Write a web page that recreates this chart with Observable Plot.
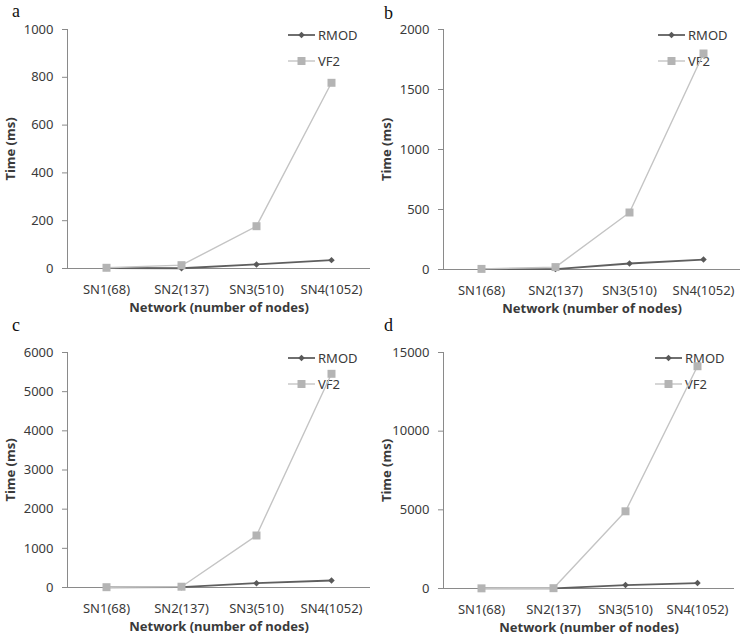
<!DOCTYPE html>
<html>
<head>
<meta charset="utf-8">
<script src="https://cdn.jsdelivr.net/npm/d3@7"></script>
<script src="https://cdn.jsdelivr.net/npm/@observablehq/plot@0.6"></script>
<style>
  body { margin: 0; background: #fff; font-family: "Noto Sans", sans-serif; }
  #fig { position: relative; width: 740px; height: 642px; overflow: hidden; background: #fff; }
  .panel { position: absolute; }
  .panel svg { position: absolute; left: 0; top: 0; z-index: 1; }
  .letter { position: absolute; font-family: "Liberation Serif", serif; font-size: 18px; color: #111; line-height: 1; }
  .legend { position: absolute; font-size: 13px; color: #3a3a3a; z-index: 0; }
  .legend .row { position: absolute; left: 0; height: 16px; display: flex; align-items: center; white-space: nowrap; }
  .legend .row svg { position: static; margin-right: 2px; }
</style>
</head>
<body>
<div id="fig"></div>
<script>
// Networks on the x axis
const networks = ["SN1(68)", "SN2(137)", "SN3(510)", "SN4(1052)"];
const seriesNames = ["RMOD", "VF2"];

// Run time (ms) per network, one pair of series per experiment
const rmodA = [2, 1, 17, 35];
const vf2A  = [3, 14, 177, 777];
const rmodB = [3, 3, 50, 83];
const vf2B  = [5, 20, 475, 1800];
const rmodC = [3, 8, 110, 179];
const vf2C  = [8, 20, 1328, 5456];
const rmodD = [5, 10, 217, 344];
const vf2D  = [10, 20, 4907, 14127];

// Y-axis ticks per panel
const ticksA = [0, 200, 400, 600, 800, 1000];
const ticksB = [0, 500, 1000, 1500, 2000];
const ticksC = [0, 1000, 2000, 3000, 4000, 5000, 6000];
const ticksD = [0, 5000, 10000, 15000];

const panelLetters = ["a", "b", "c", "d"];
const xTitle = "Network (number of nodes)";
const yTitle = "Time (ms)";

const colors = { RMOD: "#595959", VF2: "#b4b4b4" };
const lineColors = { RMOD: "#5f5f5f", VF2: "#c4c4c4" };
const symbols = { RMOD: "diamond2", VF2: "square" };
const axisGray = "#8a8a8a";
const textGray = "#3a3a3a";

const panels = [
  { letter: panelLetters[0], rmod: rmodA, vf2: vf2A, ticks: ticksA,
    left: 0, top: 0, width: 370, height: 320,
    margin: { l: 67, r: 0, t: 29, b: 52 },
    letterPos: [12, 2], legendPos: [288, 27] },
  { letter: panelLetters[1], rmod: rmodB, vf2: vf2B, ticks: ticksB,
    left: 370, top: 0, width: 370, height: 320,
    margin: { l: 73, r: 0, t: 29, b: 51 },
    letterPos: [14, 4], legendPos: [288, 27] },
  { letter: panelLetters[2], rmod: rmodC, vf2: vf2C, ticks: ticksC,
    left: 0, top: 320, width: 370, height: 322,
    margin: { l: 67, r: 0, t: 32, b: 55 },
    letterPos: [12, -4], legendPos: [288, 30] },
  { letter: panelLetters[3], rmod: rmodD, vf2: vf2D, ticks: ticksD,
    left: 370, top: 320, width: 370, height: 322,
    margin: { l: 73, r: 6, t: 32, b: 54 },
    letterPos: [14, -4], legendPos: [285, 30] }
];

const fig = document.getElementById("fig");

function symbolPath(name, size) {
  const sym = name === "diamond2" ? d3.symbolDiamond2 : d3.symbolSquare;
  return d3.symbol(sym, size)();
}

for (const p of panels) {
  const rows = [];
  networks.forEach((n, i) => {
    rows.push({ network: n, series: "RMOD", time: p.rmod[i] });
    rows.push({ network: n, series: "VF2", time: p.vf2[i] });
  });
  const ymax = p.ticks[p.ticks.length - 1];

  const div = document.createElement("div");
  div.className = "panel";
  div.style.left = p.left + "px";
  div.style.top = p.top + "px";
  div.style.width = p.width + "px";
  div.style.height = p.height + "px";

  const chart = Plot.plot({
    width: p.width,
    height: p.height,
    marginLeft: p.margin.l,
    marginRight: p.margin.r,
    marginTop: p.margin.t,
    marginBottom: p.margin.b,
    style: { background: "transparent", fontFamily: "Noto Sans", fontSize: "13px", color: textGray, overflow: "visible" },
    x: { type: "point", domain: networks, padding: 0.5, label: null },
    y: { domain: [0, ymax], label: null },
    marks: [
      Plot.frame({ anchor: "left", stroke: axisGray }),
      Plot.ruleY([0], { stroke: axisGray }),
      Plot.axisY({ ticks: p.ticks, tickSize: 5, tickPadding: 9, stroke: axisGray, fill: textGray, label: null, tickFormat: d => String(d) }),
      Plot.axisX({ tickSize: 0, tickPadding: 16, fill: textGray, label: null }),
      Plot.text([xTitle], { frameAnchor: "bottom", dy: 39, lineAnchor: "middle", fontWeight: "bold", fill: textGray }),
      Plot.text([yTitle], { frameAnchor: "left", dx: -57, rotate: -90, textAnchor: "middle", lineAnchor: "middle", fontWeight: "bold", fill: textGray }),
      ...seriesNames.map(s => Plot.line(rows.filter(d => d.series === s), {
        x: "network", y: "time", stroke: lineColors[s], strokeWidth: s === "RMOD" ? 1.8 : 1.4
      })),
      ...seriesNames.map(s => Plot.dot(rows.filter(d => d.series === s), {
        x: "network", y: "time", symbol: symbols[s], fill: colors[s], stroke: "none", r: s === "RMOD" ? 2.9 : 4.5
      }))
    ]
  });
  div.appendChild(chart);

  const letter = document.createElement("div");
  letter.className = "letter";
  letter.textContent = p.letter;
  letter.style.left = p.letterPos[0] + "px";
  letter.style.top = p.letterPos[1] + "px";
  div.appendChild(letter);

  const legend = document.createElement("div");
  legend.className = "legend";
  legend.style.left = p.legendPos[0] + "px";
  legend.style.top = p.legendPos[1] + "px";
  seriesNames.forEach((s, i) => {
    const row = document.createElement("div");
    row.className = "row";
    row.style.top = (i * 26) + "px";
    const sw = d3.create("svg").attr("width", 28).attr("height", 12);
    sw.append("line").attr("x1", 0).attr("x2", 27).attr("y1", 6).attr("y2", 6)
      .attr("stroke", lineColors[s]).attr("stroke-width", s === "RMOD" ? 1.8 : 1.4);
    sw.append("path").attr("transform", "translate(13.5,6)")
      .attr("d", symbolPath(symbols[s], s === "RMOD" ? Math.PI * 2.9 * 2.9 : Math.PI * 4.5 * 4.5))
      .attr("fill", colors[s]);
    row.appendChild(sw.node());
    const label = document.createElement("span");
    label.textContent = s;
    row.appendChild(label);
    legend.appendChild(row);
  });
  div.appendChild(legend);

  fig.appendChild(div);
}
</script>
</body>
</html>
